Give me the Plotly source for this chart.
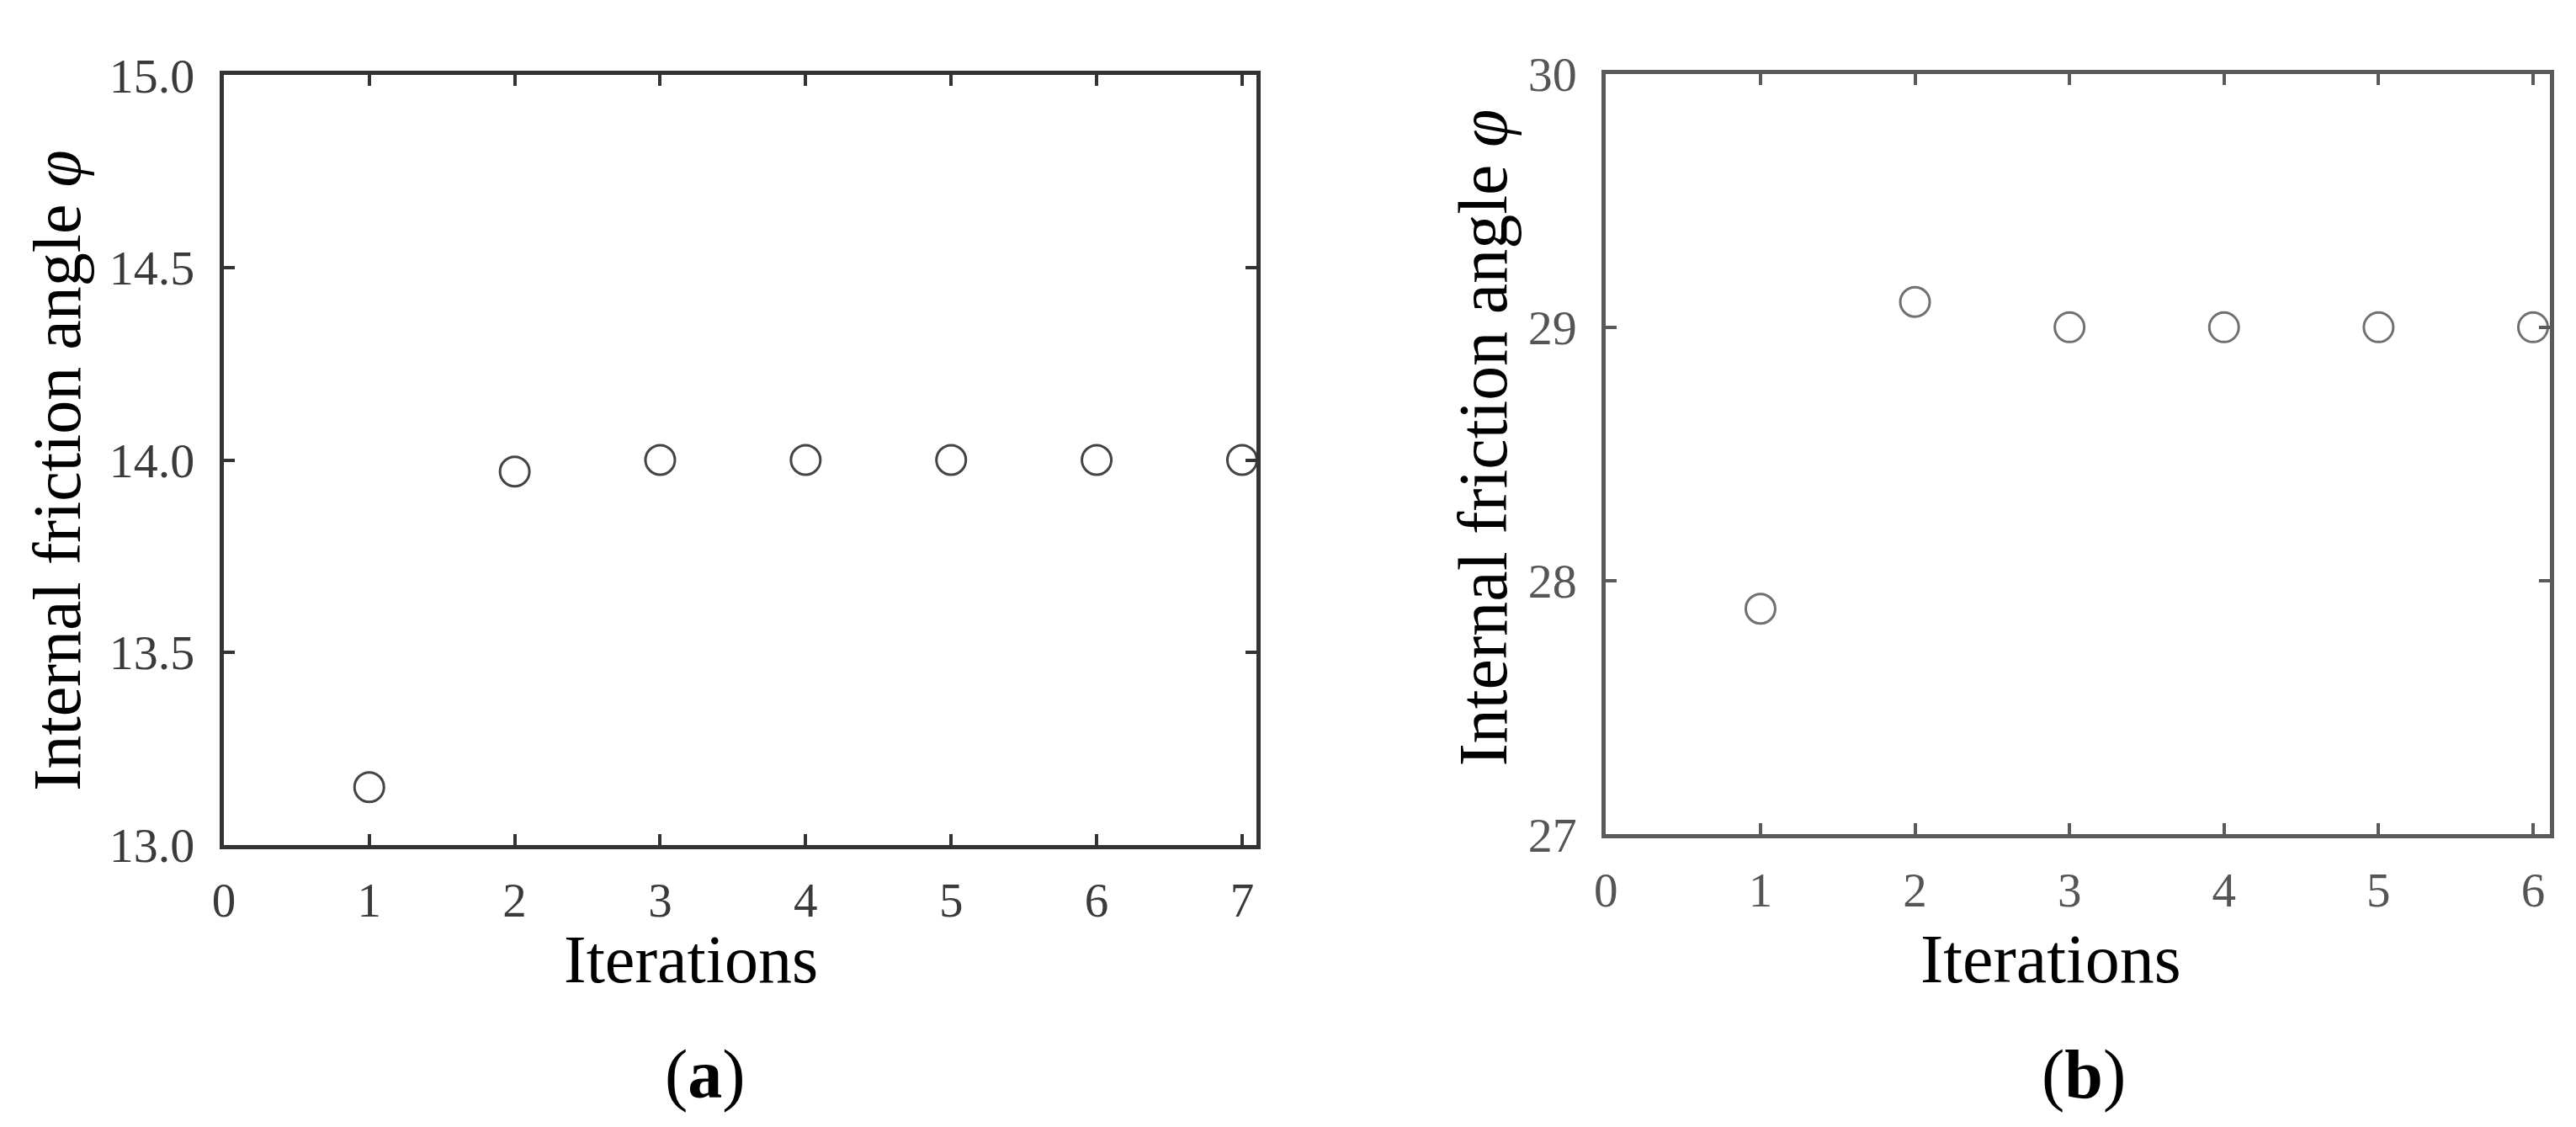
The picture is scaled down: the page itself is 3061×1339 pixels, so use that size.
import plotly.graph_objects as go

# ---- data ----
iter_a = [1, 2, 3, 4, 5, 6, 7]
phi_a = [13.15, 13.97, 14.0, 14.0, 14.0, 14.0, 14.0]
iter_b = [1, 2, 3, 4, 5, 6]
phi_b = [27.89, 29.10, 29.0, 29.0, 29.0, 29.0]

yticks_a = [13.0, 13.5, 14.0, 14.5, 15.0]
yticks_b = [27, 28, 29, 30]
xticks_a = [0, 1, 2, 3, 4, 5, 6, 7]
xticks_b = [0, 1, 2, 3, 4, 5, 6]

W, H = 3061, 1339
SERIF = "Liberation Serif, Times New Roman, serif"

fig = go.Figure()
fig.add_trace(go.Scatter(
    x=iter_a, y=phi_a, mode="markers", xaxis="x", yaxis="y",
    marker=dict(symbol="circle-open", size=35, color="#444444", line=dict(width=3, color="#444444")),
    cliponaxis=False, showlegend=False))
fig.add_trace(go.Scatter(
    x=iter_b, y=phi_b, mode="markers", xaxis="x2", yaxis="y2",
    marker=dict(symbol="circle-open", size=35, color="#707070", line=dict(width=3, color="#707070")),
    cliponaxis=False, showlegend=False))

def px_x(v):
    return v / W

def px_y(v):
    return 1 - v / H

axis_common = dict(showgrid=False, zeroline=False, showline=True, mirror="ticks",
                   ticks="inside", ticklen=13, tickwidth=4)

fig.update_layout(
    width=W, height=H,
    margin=dict(l=0, r=0, t=0, b=0),
    paper_bgcolor="white", plot_bgcolor="white",
    font=dict(family=SERIF, color="#333333"),
    xaxis=dict(domain=[px_x(245), px_x(1478)], range=[0, 7.1], tickvals=xticks_a,
               linecolor="#333333", linewidth=5, tickcolor="#333333",
               tickfont=dict(size=57, color="#3a3a3a", family=SERIF),
               ticklabelstandoff=12, anchor="y", **axis_common),
    yaxis=dict(domain=[px_y(1013), px_y(51.7)], range=[13, 15], tickvals=yticks_a,
               tickformat=".1f",
               linecolor="#333333", linewidth=5, tickcolor="#333333",
               tickfont=dict(size=58, color="#3a3a3a", family=SERIF),
               ticklabelstandoff=18, anchor="x", **axis_common),
    xaxis2=dict(domain=[px_x(1895), px_x(3022)], range=[0, 6.11], tickvals=xticks_b,
                linecolor="#5a5a5a", linewidth=5, tickcolor="#5a5a5a",
                tickfont=dict(size=57, color="#555555", family=SERIF),
                ticklabelstandoff=12, anchor="y2", **axis_common),
    yaxis2=dict(domain=[px_y(1000), px_y(50)], range=[27, 30], tickvals=yticks_b,
                linecolor="#5a5a5a", linewidth=5, tickcolor="#5a5a5a",
                tickfont=dict(size=58, color="#555555", family=SERIF),
                ticklabelstandoff=18, anchor="x2", **axis_common),
)

ann = []
ann.append(dict(text="Internal friction angle <i>φ</i>", x=0, y=px_y(545.5),
                xref="paper", yref="paper", xanchor="left", yanchor="middle",
                textangle=-90, showarrow=False, font=dict(size=80, color="black", family=SERIF)))
ann.append(dict(text="Internal friction angle <i>φ</i>", x=px_x(1748), y=px_y(505),
                xref="paper", yref="paper", xanchor="center", yanchor="middle",
                textangle=-90, showarrow=False, font=dict(size=82, color="black", family=SERIF)))
ann.append(dict(text="Iterations", x=px_x(803), y=px_y(1156),
                xref="paper", yref="paper", xanchor="center", yanchor="middle",
                showarrow=False, font=dict(size=80, color="black", family=SERIF)))
ann.append(dict(text="Iterations", x=px_x(2426), y=px_y(1156),
                xref="paper", yref="paper", xanchor="center", yanchor="middle",
                showarrow=False, font=dict(size=82, color="black", family=SERIF)))
ann.append(dict(text="(<b>a</b>)", x=px_x(820), y=px_y(1300),
                xref="paper", yref="paper", xanchor="center", yanchor="middle",
                showarrow=False, font=dict(size=82, color="black", family=SERIF)))
ann.append(dict(text="(<b>b</b>)", x=px_x(2465), y=px_y(1300),
                xref="paper", yref="paper", xanchor="center", yanchor="middle",
                showarrow=False, font=dict(size=82, color="black", family=SERIF)))
fig.update_layout(annotations=ann)

fig.write_html("out.html")
